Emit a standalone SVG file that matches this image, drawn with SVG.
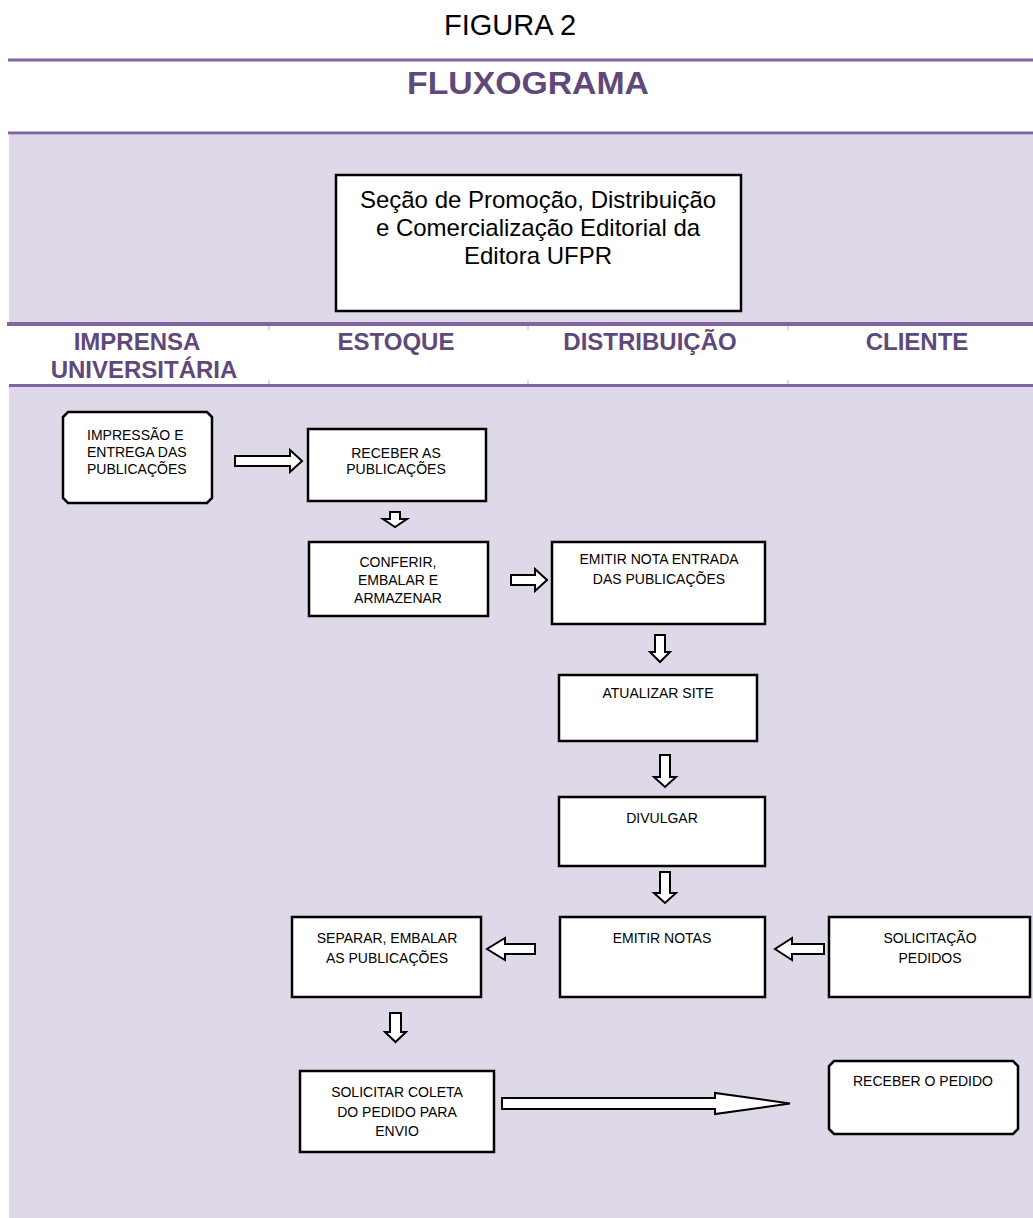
<svg xmlns="http://www.w3.org/2000/svg" width="1033" height="1218" viewBox="0 0 1033 1218">
<style>
.bg{fill:#DFD8E9}
.pl{stroke:#8064A2;fill:none}
.box{fill:#fff;stroke:#000;stroke-width:2.5}
.arr{fill:#fff;stroke:#000;stroke-width:2;stroke-linejoin:miter}
.t{font-family:"Liberation Sans",Arial,sans-serif;font-size:14px;fill:#000;text-anchor:middle}
.tl{font-family:"Liberation Sans",Arial,sans-serif;font-size:14px;fill:#000;text-anchor:start}
.tb{font-family:"Liberation Sans",Arial,sans-serif;font-size:24px;fill:#000;text-anchor:middle}
.h{font-family:"Liberation Sans",Arial,sans-serif;font-size:24px;font-weight:bold;fill:#5F497A;text-anchor:middle}
.tick{stroke:#B8B0C4;stroke-width:1}
</style>
<rect width="1033" height="1218" fill="#fff"/>
<rect class="bg" x="9" y="135" width="1024" height="188"/>
<rect class="bg" x="9" y="387" width="1024" height="831"/>
<line class="pl" x1="8" y1="60" x2="1033" y2="60" stroke-width="3"/>
<line class="pl" x1="8" y1="133" x2="1033" y2="133" stroke-width="3"/>
<line class="pl" x1="7" y1="324" x2="1033" y2="324" stroke-width="4"/>
<line class="pl" x1="9" y1="385.5" x2="1033" y2="385.5" stroke-width="3"/>
<g>
<line class="tick" x1="269" y1="326" x2="269" y2="330"/><line class="tick" x1="528" y1="326" x2="528" y2="330"/><line class="tick" x1="788" y1="326" x2="788" y2="330"/>
<line class="tick" x1="269" y1="380" x2="269" y2="384"/><line class="tick" x1="528" y1="380" x2="528" y2="384"/><line class="tick" x1="788" y1="380" x2="788" y2="384"/>
</g>
<text x="510" y="35" font-family="Liberation Sans, Arial, sans-serif" font-size="29" text-anchor="middle" fill="#000">FIGURA 2</text>
<text x="528" y="94" font-family="Liberation Sans, Arial, sans-serif" font-size="31" font-weight="bold" text-anchor="middle" fill="#5F497A" textLength="242" lengthAdjust="spacingAndGlyphs">FLUXOGRAMA</text>
<g id="lanes">
<text class="h" x="137" y="350">IMPRENSA</text>
<text class="h" x="144" y="378">UNIVERSITÁRIA</text>
<text class="h" x="396" y="350">ESTOQUE</text>
<text class="h" x="650" y="350">DISTRIBUIÇÃO</text>
<text class="h" x="917" y="350">CLIENTE</text>
</g>
<g id="secao">
<rect class="box" x="336" y="175" width="405" height="136"/>
<text class="tb" x="538" y="208">Seção de Promoção, Distribuição</text>
<text class="tb" x="538" y="236">e Comercialização Editorial da</text>
<text class="tb" x="538" y="264">Editora UFPR</text>
</g>
<g id="impressao">
<path class="box" d="M68,412 H207 L212,417 V498 L207,503 H68 L63,498 V417 Z"/>
<text class="tl" x="87" y="440">IMPRESSÃO E</text>
<text class="tl" x="87" y="457">ENTREGA DAS</text>
<text class="tl" x="87" y="474">PUBLICAÇÕES</text>
</g>
<g id="receber">
<rect class="box" x="308" y="429" width="178" height="72"/>
<text class="t" x="396" y="458">RECEBER AS</text>
<text class="t" x="396" y="474">PUBLICAÇÕES</text>
</g>
<g id="conferir">
<rect class="box" x="309" y="542" width="179" height="74"/>
<text class="t" x="398" y="567">CONFERIR,</text>
<text class="t" x="398" y="585">EMBALAR E</text>
<text class="t" x="398" y="603">ARMAZENAR</text>
</g>
<g id="emitir-nota">
<rect class="box" x="552" y="542" width="213" height="82"/>
<text class="t" x="659" y="564">EMITIR NOTA ENTRADA</text>
<text class="t" x="659" y="584">DAS PUBLICAÇÕES</text>
</g>
<g id="atualizar">
<rect class="box" x="559" y="675" width="198" height="66"/>
<text class="t" x="658" y="698">ATUALIZAR SITE</text>
</g>
<g id="divulgar">
<rect class="box" x="559" y="797" width="206" height="69"/>
<text class="t" x="662" y="823">DIVULGAR</text>
</g>
<g id="emitir-notas">
<rect class="box" x="560" y="917" width="205" height="80"/>
<text class="t" x="662" y="943">EMITIR NOTAS</text>
</g>
<g id="separar">
<rect class="box" x="292" y="917" width="189" height="80"/>
<text class="t" x="387" y="943">SEPARAR, EMBALAR</text>
<text class="t" x="387" y="963">AS PUBLICAÇÕES</text>
</g>
<g id="solicitacao">
<rect class="box" x="829" y="917" width="201" height="80"/>
<text class="t" x="930" y="943">SOLICITAÇÃO</text>
<text class="t" x="930" y="963">PEDIDOS</text>
</g>
<g id="solicitar">
<rect class="box" x="300" y="1071" width="194" height="81"/>
<text class="t" x="397" y="1097">SOLICITAR COLETA</text>
<text class="t" x="397" y="1117">DO PEDIDO PARA</text>
<text class="t" x="397" y="1136">ENVIO</text>
</g>
<g id="receber-pedido">
<path class="box" d="M834,1061 H1013 L1018,1066 V1129 L1013,1134 H834 L829,1129 V1066 Z"/>
<text class="t" x="923" y="1086">RECEBER O PEDIDO</text>
</g>
<g id="connectors">
<path class="arr" d="M235,456 H290 V450 L302,461 L290,472 V466 H235 Z"/>
<path class="arr" d="M390,512 H400 V519 H407 L395,527 L383,519 H390 Z"/>
<path class="arr" d="M511,575 H535 V569 L547,580 L535,591 V585 H511 Z"/>
<path class="arr" d="M655,635 H665 V652 H670 L660,662 L650,652 H655 Z"/>
<path class="arr" d="M660,755 H670 V777 H676 L665,787 L654,777 H660 Z"/>
<path class="arr" d="M660,872 H670 V893 H676 L665,903 L654,893 H660 Z"/>
<path class="arr" d="M535,944 H505 V938 L487,949 L505,960 V954 H535 Z"/>
<path class="arr" d="M824,944 H792 V938 L775,949 L792,960 V954 H824 Z"/>
<path class="arr" d="M390,1013 H401 V1032 H406 L395.5,1042 L385,1032 H390 Z"/>
<path class="arr" d="M502,1098 H715 V1093 L790,1103.5 L715,1114 V1109 H502 Z"/>
</g>
</svg>
